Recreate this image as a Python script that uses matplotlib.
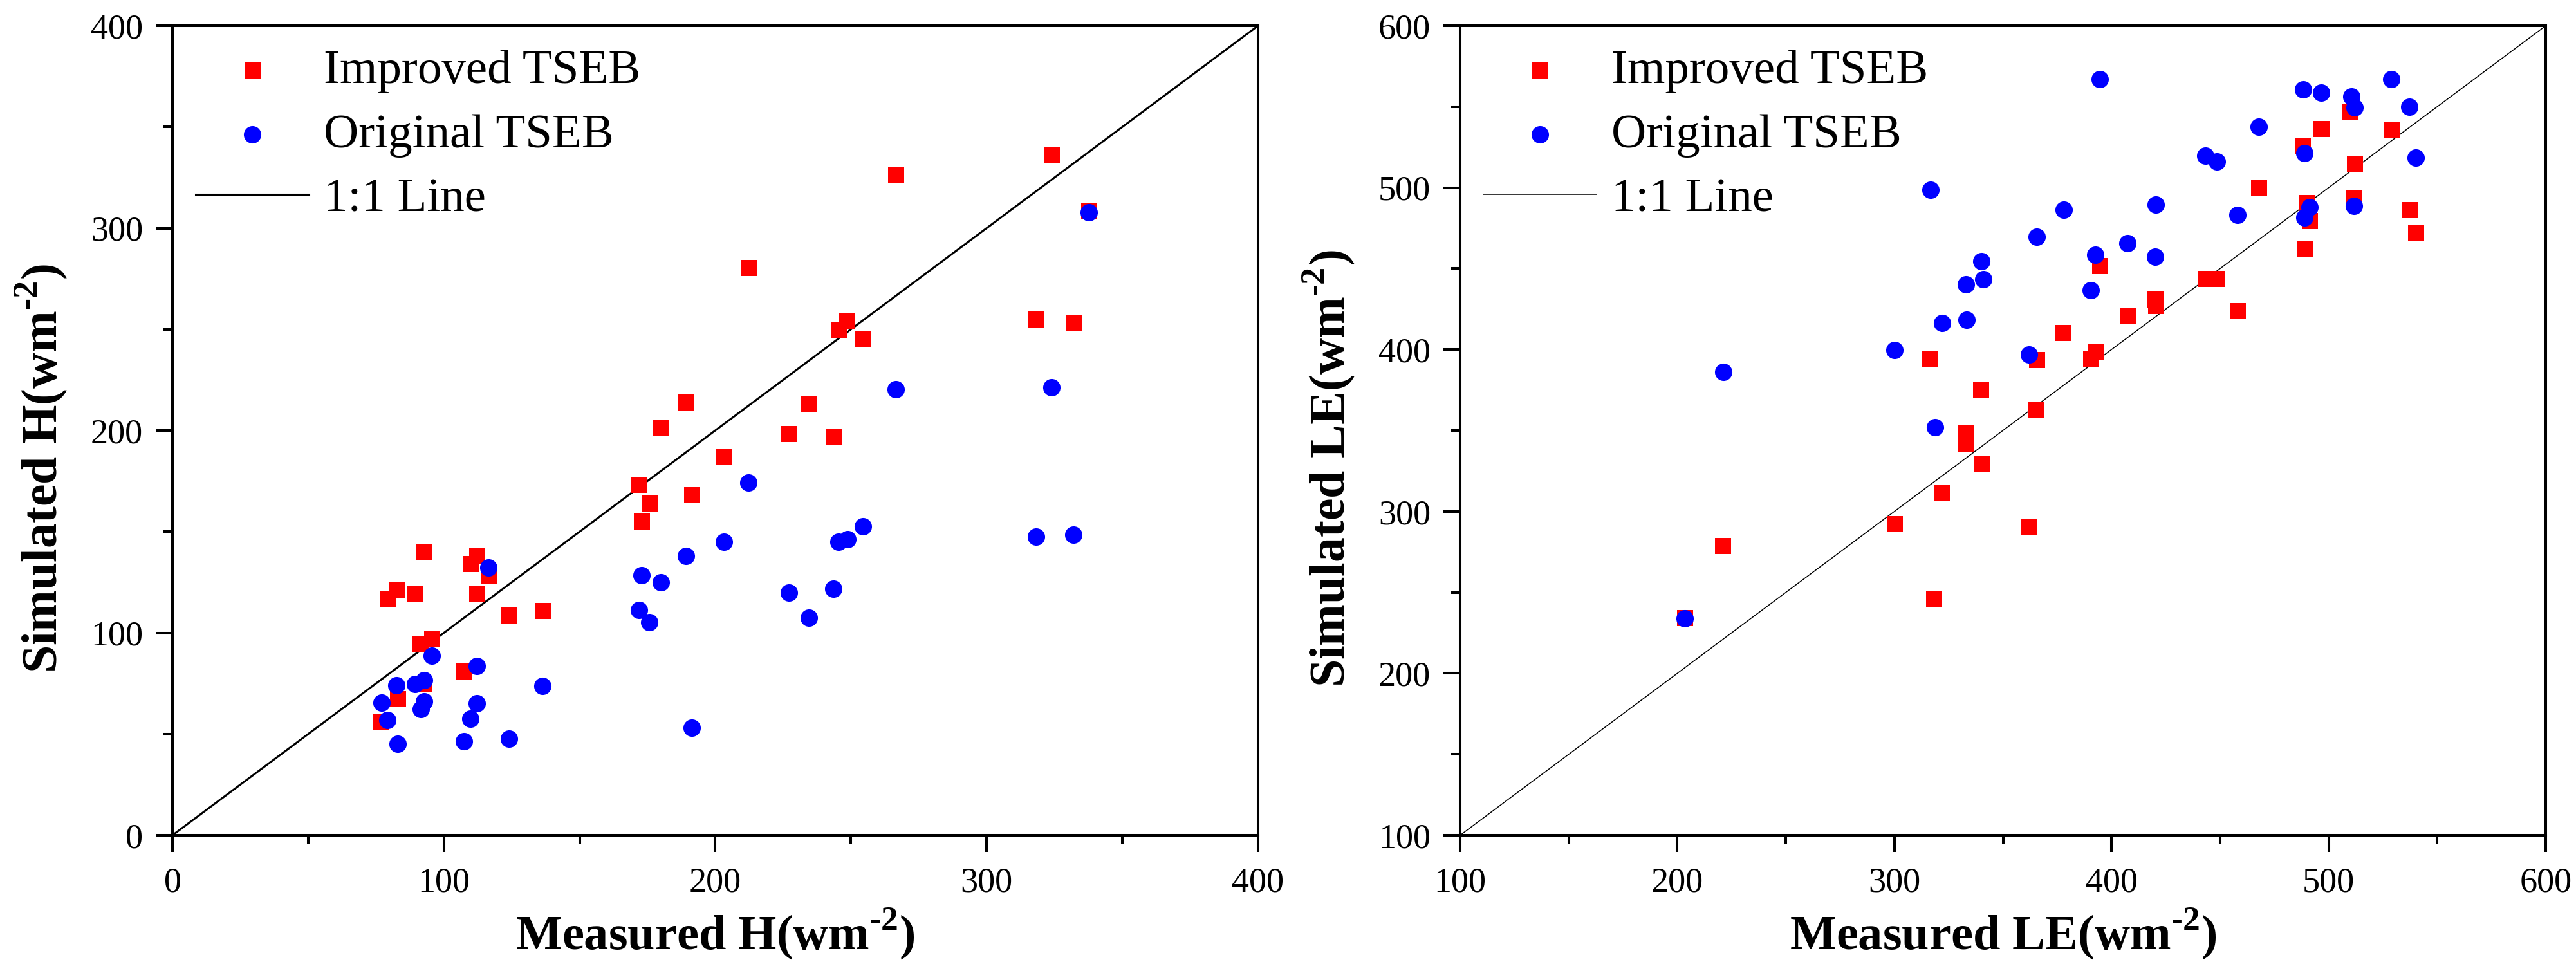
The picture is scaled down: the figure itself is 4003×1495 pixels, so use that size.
import matplotlib
matplotlib.use('Agg')
import matplotlib.pyplot as plt
from matplotlib.ticker import MultipleLocator

plt.rcParams['font.family'] = 'Liberation Serif'
plt.rcParams['mathtext.fontset'] = 'custom'
plt.rcParams['mathtext.rm'] = 'Liberation Serif:bold'
plt.rcParams['mathtext.bf'] = 'Liberation Serif:bold'

# ---- sensible heat H (wm-2) ----
meas_H_imp = [266.4, 323.8, 337.7, 212.2, 248.5, 245.5, 254.3, 318.1, 332.0, 189.3,
              234.6, 179.9, 227.1, 243.4, 203.2, 172.0, 175.7, 191.4, 172.9, 92.8,
              112.2, 109.7, 116.4, 82.5, 79.2, 89.5, 112.2, 124.0, 136.4, 95.5,
              91.3, 107.3, 92.8, 83.1, 76.5]
sim_H_imp = [326.4, 336.1, 308.7, 280.5, 254.3, 250.0, 245.5, 254.9, 253.1, 214.1,
             212.9, 201.4, 198.3, 197.1, 187.1, 173.4, 164.0, 168.2, 155.1, 139.9,
             138.4, 134.1, 128.4, 121.4, 117.1, 119.2, 119.2, 108.6, 111.0, 97.3,
             94.3, 81.2, 75.1, 67.5, 56.3]

meas_H_ori = [337.7, 266.4, 323.8, 212.2, 254.3, 248.8, 245.5, 203.2, 318.1, 332.0,
              189.3, 172.9, 179.9, 227.1, 243.4, 172.0, 175.7, 234.6, 191.4, 116.4,
              95.5, 112.2, 136.4, 82.5, 89.5, 92.8, 92.8, 91.6, 112.2, 109.7,
              77.1, 79.2, 83.1, 107.3, 124.0]
sim_H_ori = [307.8, 220.5, 221.4, 174.3, 152.7, 146.3, 145.1, 145.1, 147.5, 148.4,
             138.1, 128.4, 125.0, 119.8, 121.7, 111.3, 105.2, 107.4, 53.2, 132.3,
             88.8, 83.7, 73.9, 74.2, 74.8, 76.7, 66.0, 62.4, 65.1, 57.5,
             65.4, 56.9, 45.0, 46.5, 47.8]

# ---- latent heat LE (wm-2) ----
meas_LE_imp = [509.8, 528.8, 496.6, 487.9, 512.1, 467.8, 489.8, 511.4, 491.3, 537.1,
               540.2, 489.0, 394.7, 443.2, 448.5, 420.1, 420.5, 458.0, 407.2, 377.7,
               392.4, 390.5, 365.5, 316.3, 339.8, 365.2, 332.6, 333.0, 340.5, 321.6,
               300.0, 362.1, 220.8, 318.2, 203.4]
sim_LE_imp = [546.6, 535.6, 536.3, 526.1, 515.1, 500.3, 490.8, 493.5, 479.5, 486.3,
              471.9, 462.4, 451.8, 443.8, 443.8, 430.9, 427.1, 424.1, 420.7, 410.5,
              398.7, 394.5, 393.8, 394.2, 375.2, 363.1, 348.7, 342.2, 329.3, 311.9,
              292.2, 290.7, 278.9, 246.3, 234.2]

meas_LE_ori = [394.7, 528.8, 488.3, 496.6, 510.6, 512.1, 537.1, 467.8, 443.2, 448.5,
               540.2, 489.0, 316.7, 420.5, 491.3, 511.7, 489.0, 378.1, 458.0, 365.5,
               407.2, 392.4, 420.1, 340.2, 390.5, 333.0, 340.9, 322.0, 333.3, 300.0,
               362.1, 221.2, 318.6, 203.4]
sim_LE_ori = [567.0, 567.0, 560.6, 558.7, 556.4, 549.6, 550.0, 537.5, 519.6, 516.2,
              518.5, 521.5, 498.8, 489.7, 487.8, 488.9, 481.4, 486.3, 483.2, 469.6,
              465.8, 458.6, 457.5, 454.4, 436.6, 440.4, 443.4, 416.5, 418.4, 399.5,
              396.8, 386.2, 352.1, 233.8]

sq_size = 18 ** 2
ci_size = 19.5 ** 2

fig = plt.figure(figsize=(40.03, 14.95), dpi=100)
ax1 = fig.add_axes([0.06695, 0.13177, 0.42143, 0.84147])
ax2 = fig.add_axes([0.56683, 0.13177, 0.42143, 0.84147])


def style(ax, lo, hi):
    ax.set_xlim(lo, hi)
    ax.set_ylim(lo, hi)
    ax.xaxis.set_major_locator(MultipleLocator(100))
    ax.yaxis.set_major_locator(MultipleLocator(100))
    ax.xaxis.set_minor_locator(MultipleLocator(50))
    ax.yaxis.set_minor_locator(MultipleLocator(50))
    for sp in ax.spines.values():
        sp.set_linewidth(2.9)
    ax.tick_params(which='both', direction='out', top=False, right=False,
                   width=2.9, labelsize=39)
    ax.tick_params(which='major', length=19)
    ax.tick_params(which='minor', length=10)
    ax.tick_params(axis='x', which='major', pad=16)
    ax.tick_params(axis='y', which='major', pad=14)


# superscript with a plain hyphen, as in the source figure
sup = r'$^{\text{-}2}$'

# left panel
ax1.scatter(meas_H_imp, sim_H_imp, s=sq_size, marker='s', color='red',
            linewidths=0, label='Improved TSEB', zorder=3)
ax1.scatter(meas_H_ori, sim_H_ori, s=ci_size, marker='o', color='blue',
            linewidths=0, label='Original TSEB', zorder=4)
ax1.plot([0, 400], [0, 400], color='black', lw=2.2, label='1:1 Line', zorder=2)
style(ax1, 0, 400)
ax1.set_xlabel('Measured H(wm' + sup + ')', fontsize=55, fontweight='bold', labelpad=8)
ax1.set_ylabel('Simulated H(wm' + sup + ')', fontsize=56, fontweight='bold')

# right panel
ax2.scatter(meas_LE_imp, sim_LE_imp, s=sq_size, marker='s', color='red',
            linewidths=0, label='Improved TSEB', zorder=3)
ax2.scatter(meas_LE_ori, sim_LE_ori, s=ci_size, marker='o', color='blue',
            linewidths=0, label='Original TSEB', zorder=4)
ax2.plot([100, 600], [100, 600], color='black', lw=1.1, label='1:1 Line', zorder=2)
style(ax2, 100, 600)
ax2.set_xlabel('Measured LE(wm' + sup + ')', fontsize=55, fontweight='bold', labelpad=8)
ax2.set_ylabel('Simulated LE(wm' + sup + ')', fontsize=56, fontweight='bold')

for ax in (ax1, ax2):
    # y label sits a little below the axis centre in the source figure
    ax.yaxis.set_label_coords(-0.0954, 0.453)
    ax.legend(loc='upper left', frameon=False, fontsize=54, scatterpoints=1,
              handlelength=2.35, handletextpad=0.3, labelspacing=0.42,
              borderpad=0.2, borderaxespad=0.28)

fig.savefig('out.png', dpi=100)
